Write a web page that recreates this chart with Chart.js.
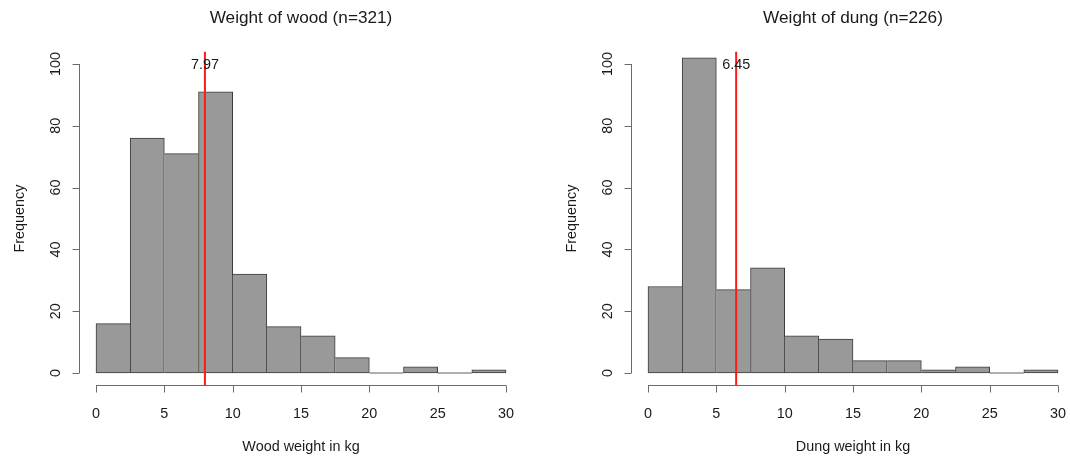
<!DOCTYPE html>
<html>
<head>
<meta charset="utf-8">
<script src="https://cdn.jsdelivr.net/npm/chart.js@4"></script>
<style>
  html, body { margin: 0; padding: 0; background: #fff; overflow: hidden; }
  .panel { position: absolute; top: 0; width: 535px; height: 461px; }
</style>
</head>
<body>
<div class="panel" style="left:0"><canvas id="wood" width="535" height="461"></canvas></div>
<div class="panel" style="left:552px"><canvas id="dung" width="535" height="461"></canvas></div>
<script>
// bin edges every 2.5 kg, 0..30
const binStarts = [0, 2.5, 5, 7.5, 10, 12.5, 15, 17.5, 20, 22.5, 25, 27.5];
const binWidth = 2.5;
const woodCounts = [16, 76, 71, 91, 32, 15, 12, 5, 0, 2, 0, 1];
const dungCounts = [28, 102, 27, 34, 12, 11, 4, 4, 1, 2, 0, 1];
const woodMean = 7.97;
const dungMean = 6.45;
const xTicks = [0, 5, 10, 15, 20, 25, 30];
const yTicks = [0, 20, 40, 60, 80, 100];

const FONT = "'Liberation Sans', Arial, Helvetica, sans-serif";
const TEXT = "#1a1a1a";
const AXIS = "#6a6a6a";

// R-style axes, titles and the mean label, drawn from the chart's scales
const rAxes = {
  id: "rAxes",
  afterDraw(chart, args, opts) {
    const ctx = chart.ctx;
    const xs = chart.scales.x, ys = chart.scales.y;
    const left = xs.getPixelForValue(xs.min);
    const bottom = ys.getPixelForValue(ys.min);
    const top = ys.getPixelForValue(ys.max);
    const right = xs.getPixelForValue(xs.max);
    ctx.save();
    ctx.strokeStyle = AXIS;
    ctx.lineWidth = 1;
    ctx.fillStyle = TEXT;
    ctx.font = "14.4px " + FONT;

    // x axis
    const x0 = xs.getPixelForValue(xTicks[0]);
    const x1 = xs.getPixelForValue(xTicks[xTicks.length - 1]);
    const by = Math.round(bottom) + 0.5;
    ctx.beginPath();
    ctx.moveTo(x0, by); ctx.lineTo(x1, by);
    xTicks.forEach(t => {
      const px = Math.round(xs.getPixelForValue(t)) + 0.5;
      ctx.moveTo(px, by); ctx.lineTo(px, by + 7);
    });
    ctx.stroke();
    ctx.textAlign = "center";
    ctx.textBaseline = "alphabetic";
    xTicks.forEach(t => ctx.fillText(String(t), xs.getPixelForValue(t), bottom + 32.6));

    // y axis
    const lx = Math.round(left) - 0.5;
    ctx.beginPath();
    ctx.moveTo(lx, ys.getPixelForValue(yTicks[0]));
    ctx.lineTo(lx, ys.getPixelForValue(yTicks[yTicks.length - 1]));
    yTicks.forEach(t => {
      const py = Math.round(ys.getPixelForValue(t)) + 0.5;
      ctx.moveTo(lx, py); ctx.lineTo(lx - 7, py);
    });
    ctx.stroke();
    yTicks.forEach(t => {
      ctx.save();
      ctx.translate(left - 20, ys.getPixelForValue(t));
      ctx.rotate(-Math.PI / 2);
      ctx.fillText(String(t), 0, 0);
      ctx.restore();
    });

    // axis titles
    const cx = (left + right) / 2;
    const cy = (top + bottom) / 2;
    ctx.fillText(opts.xLabel, cx, bottom + 65.5);
    ctx.save();
    ctx.translate(left - 56, cy);
    ctx.rotate(-Math.PI / 2);
    ctx.fillText("Frequency", 0, 0);
    ctx.restore();

    // main title
    ctx.font = "17.2px " + FONT;
    ctx.fillText(opts.title, cx, 23);

    // mean value next to the red line
    ctx.font = "14.4px " + FONT;
    ctx.fillText(opts.mean.toFixed(2), xs.getPixelForValue(opts.mean), ys.getPixelForValue(100) + 5.3);
    ctx.restore();
  }
};

// draw each shared bin edge once, by the taller neighbour
function edgeWidths(counts) {
  return ctx => {
    const i = ctx.dataIndex;
    const v = counts[i];
    const prev = i > 0 ? counts[i - 1] : -1;
    const next = i < counts.length - 1 ? counts[i + 1] : -1;
    return {
      top: 1,
      bottom: 1,
      left: v > prev || i === 0 ? 1 : 0,
      right: v >= next ? 1 : 0
    };
  };
}

function makeHist(id, counts, mean, title, xLabel) {
  const points = binStarts.map((s, i) => ({ x: s + binWidth / 2, y: counts[i] }));
  return new Chart(document.getElementById(id), {
    type: "bar",
    data: {
      datasets: [
        {
          type: "line",
          order: 0,
          data: [{ x: mean, y: -4 }, { x: mean, y: 104 }],
          borderColor: "#ff1a1a",
          borderWidth: 2,
          pointRadius: 0,
          fill: false
        },
        {
          type: "bar",
          order: 1,
          data: points,
          backgroundColor: "#999999",
          borderColor: "#3c3c3c",
          borderWidth: edgeWidths(counts),
          borderSkipped: false,
          minBarLength: 1,
          barPercentage: 1,
          categoryPercentage: 1
        }
      ]
    },
    options: {
      responsive: false,
      animation: false,
      events: [],
      layout: { padding: { left: 79.6, right: 12.6, top: 51.6, bottom: 75.6 } },
      plugins: {
        legend: { display: false },
        tooltip: { enabled: false },
        rAxes: { title: title, xLabel: xLabel, mean: mean }
      },
      scales: {
        x: { type: "linear", min: -1.2, max: 31.2, offset: false, display: false },
        y: { type: "linear", min: -4, max: 104, display: false }
      }
    },
    plugins: [rAxes]
  });
}

makeHist("wood", woodCounts, woodMean, "Weight of wood (n=321)", "Wood weight in kg");
makeHist("dung", dungCounts, dungMean, "Weight of dung (n=226)", "Dung weight in kg");
</script>
</body>
</html>
